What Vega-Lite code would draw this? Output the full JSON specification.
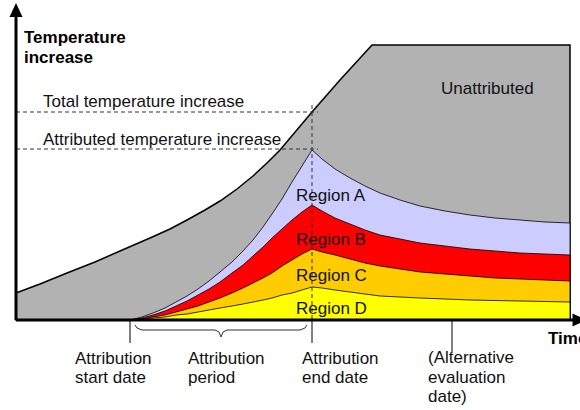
{
  "$schema": "https://vega.github.io/schema/vega-lite/v6.json",
  "width": 580,
  "height": 410,
  "padding": 0,
  "autosize": {"type": "none"},
  "config": {"view": {"stroke": null}},
  "datasets": {
    "total": [
      {"t": 16, "T": 27}, {"t": 40, "T": 36}, {"t": 67, "T": 47}, {"t": 95, "T": 58},
      {"t": 120, "T": 69}, {"t": 150, "T": 82}, {"t": 170, "T": 91}, {"t": 187, "T": 100},
      {"t": 205, "T": 110}, {"t": 220, "T": 119}, {"t": 237, "T": 131}, {"t": 253, "T": 144},
      {"t": 267, "T": 157}, {"t": 280, "T": 170}, {"t": 296, "T": 189}, {"t": 312, "T": 208},
      {"t": 340, "T": 240}, {"t": 372, "T": 275}, {"t": 570, "T": 275}
    ],
    "regions": [
      {"t": 130, "A": 0, "B": 0, "C": 0, "D": 0},
      {"t": 142, "A": 3, "B": 2, "C": 1, "D": 1},
      {"t": 153, "A": 7, "B": 5, "C": 3, "D": 2},
      {"t": 165, "A": 12, "B": 9, "C": 5, "D": 3},
      {"t": 176, "A": 18, "B": 14, "C": 8, "D": 5},
      {"t": 187, "A": 24, "B": 19, "C": 11, "D": 6},
      {"t": 198, "A": 31, "B": 25, "C": 14, "D": 8},
      {"t": 209, "A": 39, "B": 31, "C": 18, "D": 10},
      {"t": 220, "A": 48, "B": 38, "C": 22, "D": 12},
      {"t": 232, "A": 58, "B": 47, "C": 27, "D": 14},
      {"t": 243, "A": 69, "B": 55, "C": 32, "D": 16},
      {"t": 253, "A": 80, "B": 64, "C": 37, "D": 18},
      {"t": 263, "A": 93, "B": 73, "C": 42, "D": 20},
      {"t": 272, "A": 106, "B": 82, "C": 47, "D": 22},
      {"t": 282, "A": 121, "B": 91, "C": 54, "D": 25},
      {"t": 292, "A": 138, "B": 100, "C": 60, "D": 27},
      {"t": 302, "A": 154, "B": 108, "C": 66, "D": 30},
      {"t": 312, "A": 170, "B": 115, "C": 71, "D": 33},
      {"t": 322, "A": 161, "B": 109, "C": 68, "D": 32},
      {"t": 335, "A": 151, "B": 102, "C": 65, "D": 30},
      {"t": 350, "A": 142, "B": 96, "C": 61, "D": 28},
      {"t": 365, "A": 134, "B": 90, "C": 57, "D": 26},
      {"t": 380, "A": 127, "B": 85, "C": 54, "D": 24},
      {"t": 400, "A": 120, "B": 81, "C": 51, "D": 23},
      {"t": 420, "A": 114, "B": 77, "C": 48, "D": 22},
      {"t": 445, "A": 109, "B": 74, "C": 46, "D": 21},
      {"t": 470, "A": 105, "B": 71, "C": 44, "D": 20},
      {"t": 495, "A": 102, "B": 69, "C": 42, "D": 19.5},
      {"t": 520, "A": 100, "B": 67, "C": 41, "D": 19},
      {"t": 545, "A": 98, "B": 66, "C": 40, "D": 18.5},
      {"t": 570, "A": 97, "B": 65, "C": 39, "D": 18}
    ],
    "brace": [
      {"t": 135, "T": -5}, {"t": 137, "T": -8}, {"t": 142, "T": -10}, {"t": 215, "T": -10},
      {"t": 219, "T": -12}, {"t": 221, "T": -17}, {"t": 223, "T": -12}, {"t": 227, "T": -10},
      {"t": 300, "T": -10}, {"t": 305, "T": -8}, {"t": 307, "T": -5}
    ],
    "dashes": [
      {"t": 16, "t2": 318, "T": 208, "T2": 208},
      {"t": 16, "t2": 318, "T": 171, "T2": 171},
      {"t": 312, "t2": 312, "T": 215, "T2": 0}
    ],
    "ticks": [
      {"t": 130, "T": 0, "T2": -23},
      {"t": 312, "T": 0, "T2": -23},
      {"t": 452, "T": 0, "T2": -33}
    ],
    "axes": [
      {"t": 16, "t2": 575, "T": 0, "T2": 0},
      {"t": 16, "t2": 16, "T": 0, "T2": 306}
    ],
    "arrows": [
      {"t": 16, "T": 310, "dir": "up"},
      {"t": 579.5, "T": 0, "dir": "right"}
    ],
    "labels": [
      {"t": 24, "T": 277, "text": "Temperature", "bold": true},
      {"t": 24, "T": 257, "text": "increase", "bold": true},
      {"t": 548, "T": -24, "text": "Time", "bold": true},
      {"t": 43, "T": 213, "text": "Total temperature increase", "bold": false},
      {"t": 43, "T": 175, "text": "Attributed temperature increase", "bold": false},
      {"t": 441, "T": 226, "text": "Unattributed", "bold": false},
      {"t": 296, "T": 119, "text": "Region A", "bold": false},
      {"t": 296, "T": 75, "text": "Region B", "bold": false},
      {"t": 296, "T": 39, "text": "Region C", "bold": false},
      {"t": 296, "T": 6, "text": "Region D", "bold": false},
      {"t": 75, "T": -44, "text": "Attribution", "bold": false},
      {"t": 75, "T": -63, "text": "start date", "bold": false},
      {"t": 188, "T": -44, "text": "Attribution", "bold": false},
      {"t": 188, "T": -63, "text": "period", "bold": false},
      {"t": 302, "T": -44, "text": "Attribution", "bold": false},
      {"t": 302, "T": -63, "text": "end date", "bold": false},
      {"t": 428, "T": -43, "text": "(Alternative", "bold": false},
      {"t": 428, "T": -63, "text": "evaluation", "bold": false},
      {"t": 428, "T": -82, "text": "date)", "bold": false}
    ]
  },
  "encoding": {
    "x": {"field": "t", "type": "quantitative", "scale": {"domain": [0, 580], "nice": false, "zero": false}, "axis": null},
    "y": {"field": "T", "type": "quantitative", "scale": {"domain": [-90, 320], "nice": false, "zero": false}, "axis": null}
  },
  "layer": [
    {
      "data": {"name": "total"},
      "mark": {"type": "area", "fill": "#b2b2b2", "stroke": "#000", "strokeWidth": 1.5},
      "encoding": {"y2": {"datum": 0}}
    },
    {
      "data": {"name": "regions"},
      "mark": {"type": "area", "fill": "#ccccff", "stroke": "#000", "strokeWidth": 0.8},
      "encoding": {"y": {"field": "A", "type": "quantitative"}, "y2": {"datum": 0}}
    },
    {
      "data": {"name": "regions"},
      "mark": {"type": "area", "fill": "#ff0000", "stroke": "#000", "strokeWidth": 0.8},
      "encoding": {"y": {"field": "B", "type": "quantitative"}, "y2": {"datum": 0}}
    },
    {
      "data": {"name": "regions"},
      "mark": {"type": "area", "fill": "#ffcc00", "stroke": "#000", "strokeWidth": 0.8},
      "encoding": {"y": {"field": "C", "type": "quantitative"}, "y2": {"datum": 0}}
    },
    {
      "data": {"name": "regions"},
      "mark": {"type": "area", "fill": "#ffff00", "stroke": "#000", "strokeWidth": 0.8},
      "encoding": {"y": {"field": "D", "type": "quantitative"}, "y2": {"datum": 0}}
    },
    {
      "data": {"name": "dashes"},
      "mark": {"type": "rule", "stroke": "#333", "strokeWidth": 1, "strokeDash": [4, 3]},
      "encoding": {"x2": {"field": "t2"}, "y2": {"field": "T2"}}
    },
    {
      "data": {"name": "ticks"},
      "mark": {"type": "rule", "stroke": "#000", "strokeWidth": 1},
      "encoding": {"y2": {"field": "T2"}}
    },
    {
      "data": {"name": "brace"},
      "mark": {"type": "line", "stroke": "#333", "strokeWidth": 1, "interpolate": "linear"},
      "encoding": {"order": {"field": "t", "type": "quantitative"}}
    },
    {
      "data": {"name": "axes"},
      "mark": {"type": "rule", "stroke": "#000", "strokeWidth": 3},
      "encoding": {"x2": {"field": "t2"}, "y2": {"field": "T2"}}
    },
    {
      "data": {"name": "arrows"},
      "transform": [{"filter": "datum.dir === 'up'"}],
      "mark": {"type": "point", "shape": "M0,-1L0.93,1L-0.93,1Z", "size": 196, "filled": true, "fill": "#000", "opacity": 1, "strokeWidth": 0}
    },
    {
      "data": {"name": "arrows"},
      "transform": [{"filter": "datum.dir === 'right'"}],
      "mark": {"type": "point", "shape": "M1,0L-1,-0.93L-1,0.93Z", "size": 196, "filled": true, "fill": "#000", "opacity": 1, "strokeWidth": 0}
    },
    {
      "data": {"name": "labels"},
      "transform": [{"filter": "datum.bold"}],
      "mark": {"type": "text", "align": "left", "baseline": "alphabetic", "font": "Liberation Sans", "fontSize": 17, "fontWeight": "bold", "fill": "#000"},
      "encoding": {"text": {"field": "text"}}
    },
    {
      "data": {"name": "labels"},
      "transform": [{"filter": "!datum.bold"}],
      "mark": {"type": "text", "align": "left", "baseline": "alphabetic", "font": "Liberation Sans", "fontSize": 17, "fill": "#111"},
      "encoding": {"text": {"field": "text"}}
    }
  ]
}
